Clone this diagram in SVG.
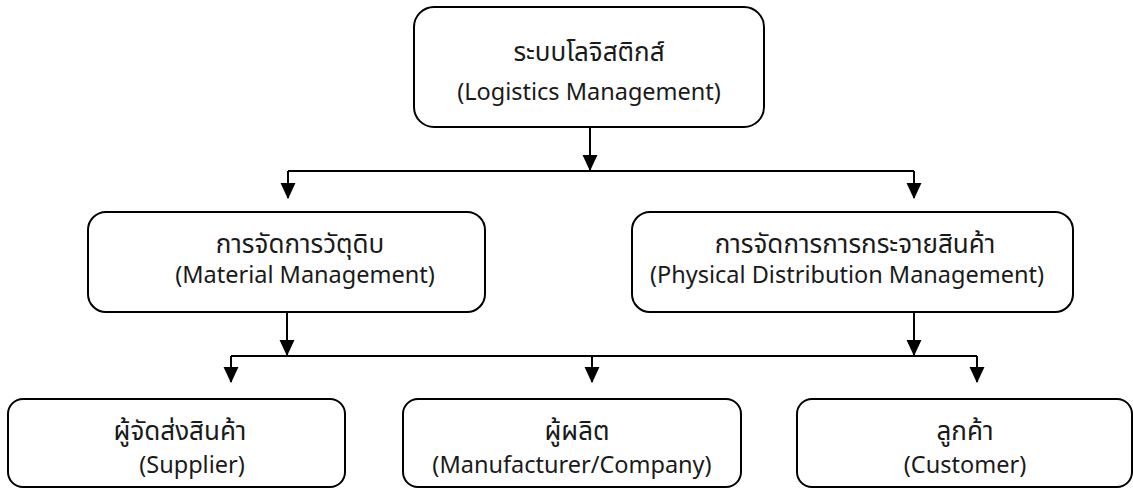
<svg xmlns="http://www.w3.org/2000/svg" width="1133" height="489" viewBox="0 0 1133 489">
<style>
.box{fill:#ffffff;stroke:#000000;stroke-width:2}
.con{fill:none;stroke:#000000;stroke-width:2}
text{font-family:"Noto Sans","Noto Sans Thai","DejaVu Sans",sans-serif;font-size:23.5px;fill:#1a1a1a;text-anchor:middle}
text.th{font-size:26px}
</style>
<defs>
<marker id="ah" markerUnits="userSpaceOnUse" markerWidth="16" markerHeight="16" viewBox="0 0 15 14" refX="14" refY="7" orient="auto">
<path d="M0,0 L15,7 L0,14 Z" fill="#000000"/>
</marker>
</defs>
<rect width="1133" height="489" fill="#ffffff"/>
<g id="connectors">
<path class="con" d="M590,127 L590,170" marker-end="url(#ah)"/>
<path class="con" d="M288,171 L914,171"/>
<path class="con" d="M288,171 L288,198" marker-end="url(#ah)"/>
<path class="con" d="M914,171 L914,198" marker-end="url(#ah)"/>
<path class="con" d="M287,312 L287,355" marker-end="url(#ah)"/>
<path class="con" d="M914,312 L914,355" marker-end="url(#ah)"/>
<path class="con" d="M231,356 L977,356"/>
<path class="con" d="M231,356 L231,382" marker-end="url(#ah)"/>
<path class="con" d="M592,356 L592,382" marker-end="url(#ah)"/>
<path class="con" d="M977,356 L977,382" marker-end="url(#ah)"/>
</g>
<g id="logistics">
<rect class="box" x="414" y="7" width="350" height="120" rx="20"/>
<text class="th" x="589" y="61">ระบบโลจิสติกส์</text>
<text x="589" y="100">(Logistics Management)</text>
</g>
<g id="material">
<rect class="box" x="88" y="212" width="397" height="100" rx="18"/>
<text class="th" x="300" y="253">การจัดการวัตุดิบ</text>
<text x="305" y="283">(Material Management)</text>
</g>
<g id="distribution">
<rect class="box" x="632" y="212" width="441" height="100" rx="18"/>
<text class="th" x="855" y="253">การจัดการการกระจายสินค้า</text>
<text x="847" y="283">(Physical Distribution Management)</text>
</g>
<g id="supplier">
<rect class="box" x="8" y="399" width="337" height="88" rx="15"/>
<text class="th" x="180" y="440">ผู้จัดส่งสินค้า</text>
<text x="192" y="473">(Supplier)</text>
</g>
<g id="manufacturer">
<rect class="box" x="403" y="399" width="338" height="88" rx="15"/>
<text class="th" x="577" y="440">ผู้ผลิต</text>
<text x="572" y="473">(Manufacturer/Company)</text>
</g>
<g id="customer">
<rect class="box" x="797" y="399" width="335" height="88" rx="15"/>
<text class="th" x="965" y="440">ลูกค้า</text>
<text x="965" y="473">(Customer)</text>
</g>
</svg>
